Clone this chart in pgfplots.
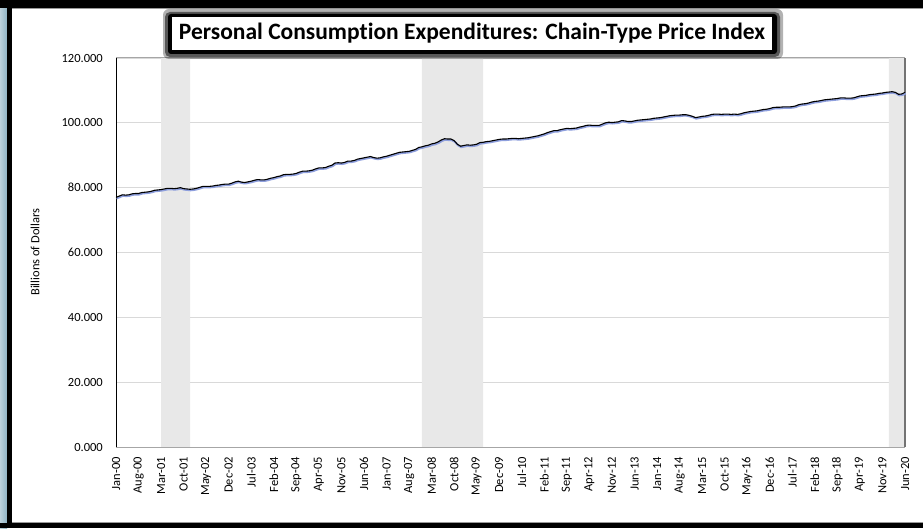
\documentclass[border=0pt]{standalone}
\usepackage{pgfplots}
\usepackage{pgfplotstable}
\pgfplotsset{compat=1.18}
\usepackage{fontspec}
\setmainfont{Carlito}[Ligatures=NoCommon]
\definecolor{gridc}{HTML}{D9D9D9}
\definecolor{shade}{HTML}{E8E8E8}
\definecolor{shadowblue}{HTML}{8E9FDD}
\definecolor{framesteel}{HTML}{8FB3C4}
\pgfplotstableread{
v
77.0
77.4
77.8
77.7
77.8
78.1
78.2
78.2
78.5
78.6
78.7
78.9
79.2
79.3
79.4
79.6
79.8
79.8
79.7
79.8
80.0
79.7
79.6
79.5
79.6
79.8
80.1
80.4
80.4
80.4
80.5
80.7
80.8
81.0
81.1
81.1
81.4
81.8
82.0
81.7
81.6
81.8
82.0
82.3
82.5
82.4
82.4
82.6
82.9
83.1
83.4
83.6
84.0
84.1
84.1
84.2
84.4
84.8
85.1
85.1
85.2
85.4
85.8
86.1
86.1
86.2
86.6
86.9
87.6
87.7
87.6
87.8
88.2
88.2
88.4
88.8
89.0
89.2
89.4
89.6
89.3
89.1
89.2
89.5
89.7
90.0
90.3
90.6
90.9
91.0
91.1
91.2
91.5
91.8
92.4
92.6
92.9
93.1
93.5
93.7
94.1
94.7
95.1
95.0
95.0
94.5
93.4
92.8
93.0
93.2
93.1
93.2
93.4
93.9
94.0
94.2
94.3
94.5
94.7
94.9
95.0
95.0
95.1
95.2
95.2
95.1
95.2
95.3
95.4
95.6
95.8
96.0
96.3
96.6
97.0
97.3
97.6
97.6
97.9
98.1
98.3
98.2
98.3
98.4
98.7
98.9
99.2
99.3
99.2
99.2
99.2
99.6
100.0
100.2
100.1
100.2
100.3
100.7
100.6
100.4
100.4
100.6
100.8
100.9
101.0
101.1
101.2
101.4
101.5
101.6
101.8
102.0
102.2
102.3
102.4
102.4
102.5
102.5
102.3
102.0
101.6
101.8
102.0
102.1
102.3
102.6
102.7
102.7
102.6
102.7
102.7
102.6
102.7
102.6
102.8
103.1
103.3
103.5
103.6
103.7
103.9
104.1
104.2
104.4
104.7
104.8
104.8
104.9
104.9
104.9
105.0
105.2
105.6
105.8
105.9
106.1
106.4
106.6
106.7
106.9
107.1
107.2
107.3
107.4
107.5
107.7
107.7
107.6
107.6
107.7
108.0
108.3
108.4
108.5
108.7
108.8
108.9
109.1
109.2
109.4
109.5
109.6
109.4
108.8
108.9
109.4
}\pce
\begin{document}
\begin{tikzpicture}[x=1pt,y=1pt]
% page background and frame
\fill[white] (0,0) rectangle (923,528);
\fill[left color=framesteel!60, right color=framesteel] (0,0) rectangle (7,528);
\fill[black] (7,0) rectangle (12,528);
\fill[black] (0,520) rectangle (923,528);
\fill[black!40] (12,519) rectangle (923,520);
\fill[black] (0,0) rectangle (923,5.5);
\fill[black!40] (12,5.5) rectangle (923,6.5);
\begin{axis}[
  at={(116pt,81pt)}, anchor=south west,
  scale only axis, width=789pt, height=389pt,
  xmin=0, xmax=245, ymin=0, ymax=120,
  axis line style={draw=none},
  tick style={draw=none},
  ymajorgrids, major grid style={gridc, line width=0.8pt},
  ytick={0,20,...,120},
  xtick={0,7,...,245},
  xticklabels={Jan-00,Aug-00,Mar-01,Oct-01,May-02,Dec-02,Jul-03,Feb-04,Sep-04,Apr-05,Nov-05,Jun-06,Jan-07,Aug-07,Mar-08,Oct-08,May-09,Dec-09,Jul-10,Feb-11,Sep-11,Apr-12,Nov-12,Jun-13,Jan-14,Aug-14,Mar-15,Oct-15,May-16,Dec-16,Jul-17,Feb-18,Sep-18,Apr-19,Nov-19,Jun-20},
  x tick label style={rotate=90, anchor=east, font=\fontsize{12.5}{14}\selectfont, inner sep=0pt},
  xticklabel shift=10pt,
  yticklabel style={font=\fontsize{12.5}{14}\selectfont, inner sep=0pt},
  yticklabel shift=13pt,
  major tick length=0pt,
  /pgf/number format/.cd, fixed, fixed zerofill, precision=3, 1000 sep={}, assume math mode=true,
  /pgfplots/.cd,
  clip=false,
]
\addplot[fill=shade, draw=none] coordinates {(14,0) (14,120) (23,120) (23,0)} \closedcycle;
\addplot[fill=shade, draw=none] coordinates {(95,0) (95,120) (114,120) (114,0)} \closedcycle;
\addplot[fill=shade, draw=none] coordinates {(240,0) (240,120) (245,120) (245,0)} \closedcycle;
\draw[black, line width=1pt] (axis cs:0,0) -- (axis cs:0,120);
\draw[black!35, line width=1pt] (axis cs:0,0) -- (axis cs:245,0);
\draw[black!55, line width=1.5pt] (axis cs:245,0) -- (axis cs:245,120);
\draw[black!35, line width=1pt] (axis cs:0,120) -- (axis cs:245,120);
\addplot[shadowblue, line width=2pt, transform canvas={xshift=0.6pt, yshift=-1pt}] table[x expr=\coordindex, y=v] {\pce};
\addplot[black, line width=1.1pt] table[x expr=\coordindex, y=v] {\pce};
\end{axis}
\node[rotate=90, font=\fontsize{12.5}{14}\selectfont, inner sep=0pt] at (35,276) {Billions of Dollars};
% title with blurred black shadow
\fill[black, opacity=0.3, rounded corners=6pt] (163,469) rectangle (783,519);
\fill[black, opacity=0.5, rounded corners=5pt] (165,471) rectangle (780,516);
\fill[black, rounded corners=3pt] (168,474) rectangle (777,514);
\fill[white] (172,478) rectangle (772,511);
\node[font=\bfseries\fontsize{23.5}{26}\selectfont, inner sep=0pt] at (472,494.5) {Personal Consumption Expenditures: Chain-Type Price Index};
\end{tikzpicture}
\end{document}
